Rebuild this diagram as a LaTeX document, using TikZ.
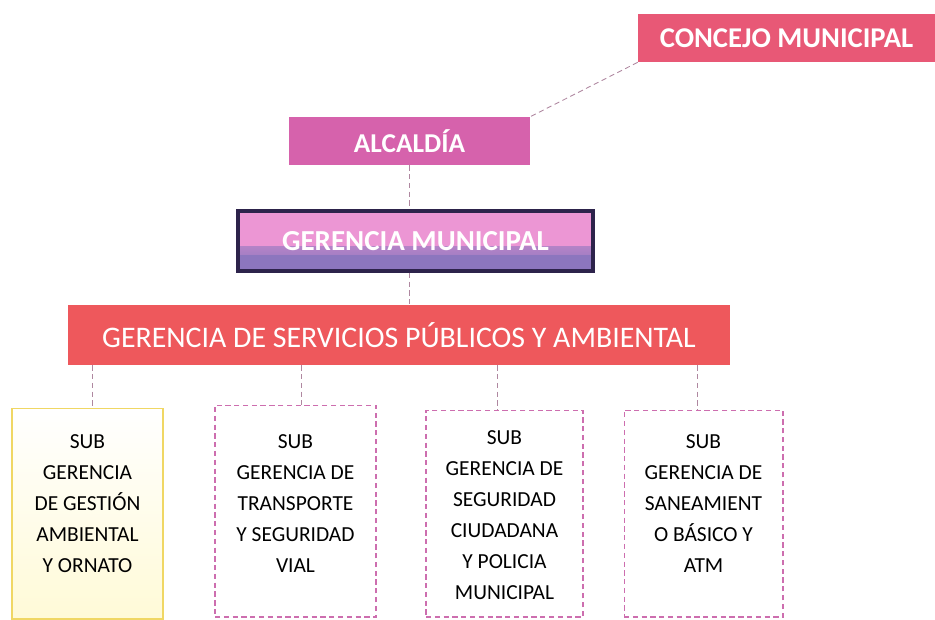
\documentclass[tikz,border=0pt]{standalone}
\usepackage{fontspec}
\setmainfont{Carlito}
\usetikzlibrary{calc}
\definecolor{concejo}{RGB}{232,88,118}
\definecolor{alcaldia}{RGB}{214,98,172}
\definecolor{gmtop}{RGB}{236,150,212}
\definecolor{gmbot}{RGB}{140,118,190}
\definecolor{gmborder}{RGB}{45,35,75}
\definecolor{gspa}{RGB}{238,88,92}
\definecolor{linec}{RGB}{175,135,160}
\definecolor{subborder}{RGB}{205,110,175}
\definecolor{yelborder}{RGB}{240,215,100}
\definecolor{yelfill}{RGB}{255,250,215}
\tikzset{
  topbox/.style={draw=none, inner sep=0pt, text=white, font=\bfseries},
  subbox/.style={draw=subborder, densely dashed, line width=0.6pt, fill=white, inner sep=0pt},
  subtext/.style={align=center, font=\fontsize{12.2}{17.6}\selectfont, text=black, anchor=north, inner sep=0pt},
  conn/.style={draw=linec, densely dashed, line width=0.5pt}
}
\begin{document}
\begin{tikzpicture}[x=0.02cm, y=-0.02cm]
\useasboundingbox (0,0) rectangle (935,619);
% top boxes
\node[topbox, fill=concejo, minimum width=5.94cm, minimum height=0.96cm, font=\bfseries\fontsize{16.3}{18}\selectfont] (concejo) at (786.5,38) {CONCEJO MUNICIPAL};
\node[topbox, fill=alcaldia, minimum width=4.82cm, minimum height=0.96cm, font=\bfseries\fontsize{15.5}{18}\selectfont] (alcaldia) at (409.5,141) {ALCALDÍA};
\node[topbox, draw=gmborder, line width=2pt, fill=gmtop, minimum width=7.1cm, minimum height=1.2cm,
  path picture={\shade[top color=gmtop, bottom color=gmbot] ($(path picture bounding box.south west)+(0,0.32cm)$) rectangle ($(path picture bounding box.south east)+(0,0.5cm)$);
                \fill[gmbot] (path picture bounding box.south west) rectangle ($(path picture bounding box.south east)+(0,0.32cm)$);},
  font=\bfseries\fontsize{16.5}{19}\selectfont] (gerencia) at (415.5,241) {GERENCIA MUNICIPAL};
\node[topbox, fill=gspa, minimum width=13.24cm, minimum height=1.2cm, font=\fontsize{17}{19}\selectfont] (gspa) at (399,335) {GERENCIA DE SERVICIOS PÚBLICOS Y AMBIENTAL};
% sub boxes
\node[subbox, draw=yelborder, solid, top color=white, bottom color=yelfill, minimum width=3.02cm, minimum height=4.22cm] (s1) at (87.5,513.5) {};
\node[subbox, minimum width=3.22cm, minimum height=4.24cm] (s2) at (295.5,511) {};
\node[subbox, minimum width=3.14cm, minimum height=4.14cm] (s3) at (504.5,513.5) {};
\node[subbox, minimum width=3.18cm, minimum height=4.14cm] (s4) at (703.5,513.5) {};
\node[subtext] (t1) at ($(s1.north)+(0,27)$) {SUB\\GERENCIA\\DE GESTIÓN\\AMBIENTAL\\Y ORNATO};
\node[subtext] (t2) at ($(s2.north)+(0,30)$) {SUB\\GERENCIA DE\\TRANSPORTE\\Y SEGURIDAD\\VIAL};
\node[subtext] (t3) at ($(s3.north)+(0,21)$) {SUB\\GERENCIA DE\\SEGURIDAD\\CIUDADANA\\Y POLICIA\\MUNICIPAL};
\node[subtext] (t4) at ($(s4.north)+(0,25)$) {SUB\\GERENCIA DE\\SANEAMIENT\\O BÁSICO Y\\ATM};
% connectors
\coordinate (c1) at ($(s1.north)+(5,0)$);
\coordinate (c2) at ($(s2.north)+(6,0)$);
\coordinate (c3) at ($(s3.north)+(-7,0)$);
\coordinate (c4) at ($(s4.north)+(-6,0)$);
\draw[conn] (concejo.south west) -- (alcaldia.north east);
\draw[conn] (alcaldia.south) -- (alcaldia.south |- gerencia.north);
\draw[conn] (gerencia.south -| alcaldia.south) -- (gspa.north -| alcaldia.south);
\draw[conn] (gspa.south -| c1) -- (c1);
\draw[conn] (gspa.south -| c2) -- (c2);
\draw[conn] (gspa.south -| c3) -- (c3);
\draw[conn] (gspa.south -| c4) -- (c4);
\end{tikzpicture}
\end{document}
